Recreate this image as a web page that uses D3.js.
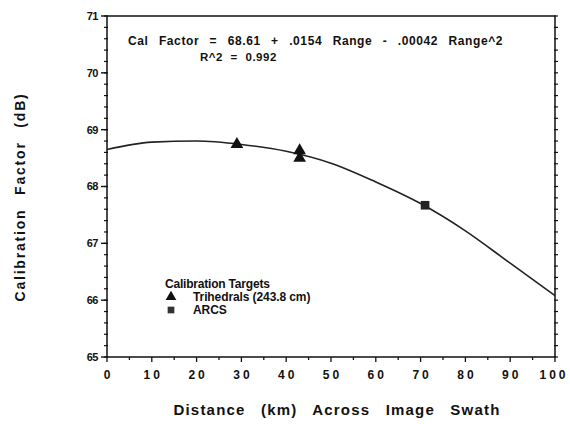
<!DOCTYPE html>
<html>
<head>
<meta charset="utf-8">
<script src="https://cdn.jsdelivr.net/npm/d3@7"></script>
<style>
  body { margin: 0; background: #fff; }
  text { font-family: "Liberation Sans", Arial, sans-serif; font-weight: bold; fill: #111; }
</style>
</head>
<body>
<div id="chart"></div>
<script>
// fitted curve
const fitX = [0, 10, 20, 30, 40, 50, 60, 70, 80, 90, 100];
const fitY = [68.65, 68.78, 68.80, 68.74, 68.62, 68.41, 68.08, 67.70, 67.22, 66.65, 66.08];

// calibration targets
const triX = [29, 43, 43];
const triY = [68.74, 68.63, 68.50];
const arcX = [71];
const arcY = [67.67];

const xTicks = [0, 10, 20, 30, 40, 50, 60, 70, 80, 90, 100];
const yTicks = [65, 66, 67, 68, 69, 70, 71];

const width = 570, height = 424;
const margin = {left: 107, right: 15, top: 16, bottom: 67};

const svg = d3.select("#chart").append("svg")
    .attr("width", width)
    .attr("height", height);

const x = d3.scaleLinear().domain([0, 100]).range([margin.left, width - margin.right]);
const y = d3.scaleLinear().domain([65, 71]).range([height - margin.bottom, margin.top]);

// frame
svg.append("rect")
    .attr("x", x(0)).attr("y", y(71))
    .attr("width", x(100) - x(0)).attr("height", y(65) - y(71))
    .attr("fill", "none").attr("stroke", "#111").attr("stroke-width", 1.5);

// left axis
const minorY = d3.range(65, 71.001, 0.2);
svg.append("g").selectAll("line").data(minorY).enter().append("line")
    .attr("x1", x(0) - 3).attr("x2", x(0) + 1)
    .attr("y1", d => y(d)).attr("y2", d => y(d))
    .attr("stroke", "#111").attr("stroke-width", 1.2);
svg.append("g").selectAll("line").data(yTicks).enter().append("line")
    .attr("x1", x(0) - 6).attr("x2", x(0))
    .attr("y1", d => y(d)).attr("y2", d => y(d))
    .attr("stroke", "#111").attr("stroke-width", 1.4);
svg.append("g").selectAll("text").data(yTicks).enter().append("text")
    .attr("x", x(0) - 9).attr("y", d => y(d))
    .attr("dy", "0.36em").attr("text-anchor", "end")
    .style("font-size", "11px").style("letter-spacing", "-0.5px")
    .text(d => d);

// right axis ticks
svg.append("g").selectAll("line").data(minorY).enter().append("line")
    .attr("x1", x(100) - 1).attr("x2", x(100) + 3)
    .attr("y1", d => y(d)).attr("y2", d => y(d))
    .attr("stroke", "#111").attr("stroke-width", 1.2);

// bottom axis
const minorX = d3.range(0, 100.001, 5);
svg.append("g").selectAll("line").data(minorX).enter().append("line")
    .attr("x1", d => x(d)).attr("x2", d => x(d))
    .attr("y1", y(65)).attr("y2", d => y(65) + (d % 10 === 0 ? 5 : 3))
    .attr("stroke", "#111").attr("stroke-width", 1.3);
svg.append("g").selectAll("text").data(xTicks).enter().append("text")
    .attr("x", d => x(d)).attr("y", y(65) + 18)
    .attr("dy", "0.36em").attr("text-anchor", "middle")
    .style("font-size", "12px").style("letter-spacing", "3px")
    .attr("dx", d => d === 100 ? -1 : 1.5)
    .text(d => d);

// axis titles
svg.append("text")
    .attr("x", 337).attr("y", 410)
    .attr("dy", "0.36em").attr("text-anchor", "middle")
    .style("font-size", "15px").style("letter-spacing", "1.2px").style("word-spacing", "10px")
    .text("Distance (km) Across Image Swath");
svg.append("text")
    .attr("transform", "translate(20,197) rotate(-90)")
    .attr("dy", "0.36em").attr("text-anchor", "middle")
    .style("font-size", "14px").style("letter-spacing", "1.8px").style("word-spacing", "8px")
    .text("Calibration Factor (dB)");

// fit curve
const line = d3.line()
    .x((d, i) => x(fitX[i]))
    .y(d => y(d))
    .curve(d3.curveMonotoneX);
svg.append("path")
    .datum(fitY)
    .attr("d", line)
    .attr("fill", "none").attr("stroke", "#222").attr("stroke-width", 1.6);

// markers
const tri = d3.symbol().type(d3.symbolTriangle).size(70);
const sq = d3.symbol().type(d3.symbolSquare).size(75);
svg.append("g").selectAll("path").data(triX).enter().append("path")
    .attr("d", tri)
    .attr("transform", (d, i) => `translate(${x(d)},${y(triY[i])})`)
    .attr("fill", "#111");
svg.append("g").selectAll("path").data(arcX).enter().append("path")
    .attr("d", sq)
    .attr("transform", (d, i) => `translate(${x(d)},${y(arcY[i])})`)
    .attr("fill", "#222");

// equation
svg.append("text")
    .attr("x", 128).attr("y", 41).attr("dy", "0.36em")
    .style("font-size", "12px").style("letter-spacing", "0.6px").style("word-spacing", "6.5px")
    .text("Cal Factor = 68.61 + .0154 Range - .00042 Range^2");
svg.append("text")
    .attr("x", 200).attr("y", 57).attr("dy", "0.36em")
    .style("font-size", "11.5px").style("letter-spacing", "0.5px").style("word-spacing", "4px")
    .text("R^2 = 0.992");

// legend
svg.append("text")
    .attr("x", 165).attr("y", 284).attr("dy", "0.36em")
    .style("font-size", "12px").style("letter-spacing", "-0.2px")
    .text("Calibration Targets");
svg.append("path").attr("d", d3.symbol().type(d3.symbolTriangle).size(50))
    .attr("transform", "translate(171,297)").attr("fill", "#111");
svg.append("text")
    .attr("x", 193).attr("y", 297).attr("dy", "0.36em")
    .style("font-size", "12px").style("letter-spacing", "-0.1px")
    .text("Trihedrals (243.8 cm)");
svg.append("path").attr("d", d3.symbol().type(d3.symbolSquare).size(45))
    .attr("transform", "translate(171,310)").attr("fill", "#333");
svg.append("text")
    .attr("x", 193).attr("y", 310).attr("dy", "0.36em")
    .style("font-size", "12px").style("letter-spacing", "-0.1px")
    .text("ARCS");
</script>
</body>
</html>
